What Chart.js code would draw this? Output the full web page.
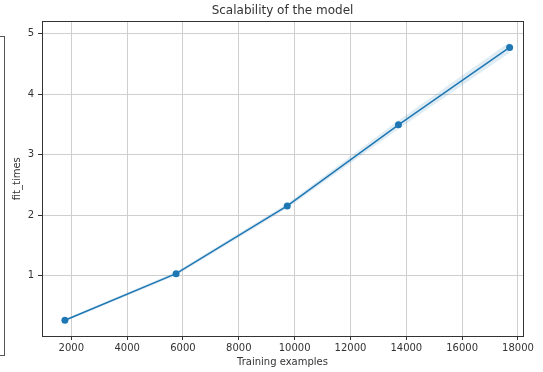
<!DOCTYPE html>
<html>
<head>
<meta charset="utf-8">
<script src="https://cdn.jsdelivr.net/npm/chart.js@4"></script>
<style>
  html, body { margin: 0; padding: 0; background: #fff; }
  #wrap { position: relative; width: 543px; height: 372px; overflow: hidden; }
  #myChart { position: absolute; left: 0; top: 0; }
  /* 左邊被切掉的另一張子圖的框 */
  #sideBox { position: absolute; left: -10px; top: 36px; width: 13px; height: 318px; border: 1px solid #555; }
</style>
</head>
<body>
<div id="wrap">
  <div id="sideBox"></div>
  <canvas id="myChart" width="543" height="372"></canvas>
</div>
<script>
// 數據
let trainSizes = [1770, 5753, 9735, 13718, 17700];
let fitTimesMean = [0.26, 1.03, 2.15, 3.49, 4.77];
let fitTimesStd = [0.02, 0.03, 0.04, 0.07, 0.09];
let xTicks = [2000, 4000, 6000, 8000, 10000, 12000, 14000, 16000, 18000];
let yTicks = [1, 2, 3, 4, 5];

const blue = "#1f77b4";
const textColor = "#333";

// 組成點
let meanPoints = trainSizes.map((x, i) => ({ x: x, y: fitTimesMean[i] }));
let upperPoints = trainSizes.map((x, i) => ({ x: x, y: fitTimesMean[i] + fitTimesStd[i] }));
let lowerPoints = trainSizes.map((x, i) => ({ x: x, y: fitTimesMean[i] - fitTimesStd[i] }));

// 外框 (matplotlib 四邊都有)
const frameBox = {
  id: "frameBox",
  afterDraw(chart) {
    const { ctx, chartArea } = chart;
    ctx.save();
    ctx.strokeStyle = "#333";
    ctx.lineWidth = 1;
    ctx.strokeRect(
      Math.round(chartArea.left) + 0.5,
      Math.round(chartArea.top) + 0.5,
      Math.round(chartArea.right - chartArea.left),
      Math.round(chartArea.bottom - chartArea.top)
    );
    ctx.restore();
  },
};

Chart.defaults.font.family = "'DejaVu Sans', sans-serif";
Chart.defaults.color = textColor;

const ctx = document.getElementById("myChart").getContext("2d");
new Chart(ctx, {
  type: "line",
  plugins: [frameBox],
  data: {
    datasets: [
      {
        data: upperPoints,
        borderWidth: 0,
        pointRadius: 0,
        fill: false,
      },
      {
        data: lowerPoints,
        borderWidth: 0,
        pointRadius: 0,
        backgroundColor: "rgba(31, 119, 180, 0.14)",
        fill: "-1",
      },
      {
        data: meanPoints,
        borderColor: blue,
        backgroundColor: blue,
        borderWidth: 1.5,
        pointRadius: 3.5,
        pointBorderWidth: 0,
        fill: false,
      },
    ],
  },
  options: {
    responsive: false,
    animation: false,
    layout: { padding: { top: 0, right: 20, bottom: 0, left: 0 } },
    plugins: {
      legend: { display: false },
      tooltip: { enabled: false },
      title: {
        display: true,
        text: "Scalability of the model",
        fullSize: false,
        color: textColor,
        font: { size: 12, weight: "normal" },
        padding: { top: 4, bottom: 3 },
      },
    },
    scales: {
      x: {
        type: "linear",
        min: 950,
        max: 18180,
        afterBuildTicks: (axis) => {
          axis.ticks = xTicks.map((v) => ({ value: v }));
        },
        afterFit: (axis) => {
          axis.height = 36;
        },
        border: { display: false },
        grid: {
          color: "#cfcfcf",
          tickColor: "#333",
          tickLength: 4,
        },
        ticks: {
          padding: 2,
          maxRotation: 0,
          autoSkip: false,
          font: { size: 10 },
          callback: (v) => String(v),
        },
        title: {
          display: true,
          text: "Training examples",
          font: { size: 10 },
          padding: { top: 0, bottom: 4 },
        },
      },
      y: {
        type: "linear",
        min: 0,
        max: 5.2,
        afterBuildTicks: (axis) => {
          axis.ticks = yTicks.map((v) => ({ value: v }));
        },
        afterFit: (axis) => {
          axis.width = 42;
        },
        border: { display: false },
        grid: {
          color: "#cfcfcf",
          tickColor: "#333",
          tickLength: 4,
        },
        ticks: {
          padding: 4,
          font: { size: 10 },
          callback: (v) => String(v),
        },
        title: {
          display: true,
          text: "fit_times",
          font: { size: 10 },
          padding: { top: 11, bottom: 0 },
        },
      },
    },
  },
});
</script>
</body>
</html>
